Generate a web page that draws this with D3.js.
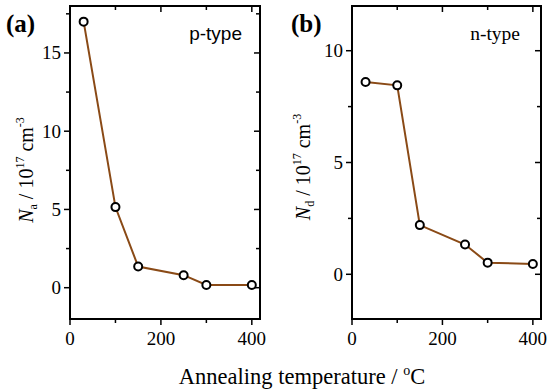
<!DOCTYPE html>
<html><head><meta charset="utf-8">
<script src="https://cdn.jsdelivr.net/npm/d3@7"></script>
<style>body{margin:0;background:#fff}svg{display:block}</style>
</head><body>
<svg id="c" width="550" height="391"></svg>
<script>
const tempsA = [30, 100, 150, 250, 300, 400];
const valuesA = [17.0, 5.15, 1.35, 0.8, 0.17, 0.17];
const tempsB = [30, 100, 150, 250, 300, 400];
const valuesB = [8.6, 8.45, 2.2, 1.33, 0.52, 0.46];
const xTicks = [0, 200, 400];
const xMinor = [100, 300];
const yTicksA = [0, 5, 10, 15];
const yMinorA = [2.5, 7.5, 12.5, 17.5];
const yTicksB = [0, 5, 10];
const yMinorB = [2.5, 7.5];

const svg = d3.select("#c");
const serif = "'Liberation Serif','Times New Roman',serif";
const lineColor = "#8a4a16";

function panel(opt){
  const g = svg.append("g");
  const x = d3.scaleLinear().domain([0, 418]).range([opt.left, opt.right]);
  const y = d3.scaleLinear().domain(opt.ydom).range([opt.bottom, opt.top]);
  g.append("rect").attr("x", opt.left).attr("y", opt.top)
    .attr("width", opt.right-opt.left).attr("height", opt.bottom-opt.top)
    .attr("fill","none").attr("stroke","#000").attr("stroke-width",2);
  const tk = (sel)=>sel.attr("stroke","#000").attr("stroke-width",1.5);
  xTicks.forEach(v=>{
    tk(g.append("line").attr("x1",x(v)).attr("x2",x(v)).attr("y1",opt.bottom).attr("y2",opt.bottom+6));
    tk(g.append("line").attr("x1",x(v)).attr("x2",x(v)).attr("y1",opt.top).attr("y2",opt.top+6));
    g.append("text").attr("x",x(v)).attr("y",opt.bottom+26).attr("text-anchor","middle")
      .attr("font-family",serif).attr("font-size",19).text(v);
  });
  xMinor.forEach(v=>{
    tk(g.append("line").attr("x1",x(v)).attr("x2",x(v)).attr("y1",opt.bottom).attr("y2",opt.bottom+4));
    tk(g.append("line").attr("x1",x(v)).attr("x2",x(v)).attr("y1",opt.top).attr("y2",opt.top+4));
  });
  opt.yt.forEach(v=>{
    tk(g.append("line").attr("x1",opt.left-6).attr("x2",opt.left).attr("y1",y(v)).attr("y2",y(v)));
    tk(g.append("line").attr("x1",opt.right-6).attr("x2",opt.right).attr("y1",y(v)).attr("y2",y(v)));
    g.append("text").attr("x",opt.left-9).attr("y",y(v)+6.5).attr("text-anchor","end")
      .attr("font-family",serif).attr("font-size",19).text(v);
  });
  opt.ym.forEach(v=>{
    tk(g.append("line").attr("x1",opt.left-4).attr("x2",opt.left).attr("y1",y(v)).attr("y2",y(v)));
    tk(g.append("line").attr("x1",opt.right-4).attr("x2",opt.right).attr("y1",y(v)).attr("y2",y(v)));
  });
  const pts = opt.xs.map((t,i)=>[t,opt.ys[i]]);
  g.append("path").datum(pts)
    .attr("d", d3.line().x(d=>x(d[0])).y(d=>y(d[1])))
    .attr("fill","none").attr("stroke",lineColor).attr("stroke-width",2);
  g.selectAll("circle.m").data(pts).enter().append("circle")
    .attr("cx",d=>x(d[0])).attr("cy",d=>y(d[1])).attr("r",4)
    .attr("fill","#fff").attr("stroke","#000").attr("stroke-width",2);
  g.append("text").attr("x",opt.labX).attr("y",32).attr("font-family",serif)
    .attr("font-weight","bold").attr("font-size",25).text(opt.lab);
  g.append("text").attr("x",opt.typeX).attr("y",opt.typeY).attr("text-anchor","end")
    .attr("font-family",opt.typeFont).attr("font-size",opt.typeSize).text(opt.type);
  const yl = g.append("text").attr("transform",`translate(${opt.ylX},${opt.ylY}) rotate(-90)`)
    .attr("text-anchor","middle").attr("font-family",serif).attr("font-size",20);
  yl.append("tspan").attr("font-style","italic").text("N");
  yl.append("tspan").attr("font-size",12).attr("dy",4).text(opt.sub);
  yl.append("tspan").attr("dy",-4).text(" / 10");
  yl.append("tspan").attr("font-size",12).attr("dy",-9).text("17");
  yl.append("tspan").attr("dy",9).text(" cm");
  yl.append("tspan").attr("font-size",12).attr("dy",-9).text("-3");
}

panel({left:70,right:260,top:6,bottom:319,ydom:[-2,18],yt:yTicksA,ym:yMinorA,xs:tempsA,ys:valuesA,
  lab:"(a)",labX:6,type:"p-type",typeX:242,typeY:40,typeFont:"'Liberation Sans',Arial,sans-serif",typeSize:19,
  ylX:33,ylY:170,sub:"a"});
panel({left:352,right:541,top:6,bottom:319,ydom:[-2,12],yt:yTicksB,ym:yMinorB,xs:tempsB,ys:valuesB,
  lab:"(b)",labX:291,type:"n-type",typeX:520,typeY:40,typeFont:serif,typeSize:19.5,
  ylX:310,ylY:167,sub:"d"});

const xl = svg.append("text").attr("x",302).attr("y",384).attr("text-anchor","middle")
  .attr("font-family",serif).attr("font-size",22.5);
xl.append("tspan").text("Annealing temperature / ");
xl.append("tspan").attr("font-size",14).attr("dy",-9).text("o");
xl.append("tspan").attr("dy",9).text("C");
</script>
</body></html>
